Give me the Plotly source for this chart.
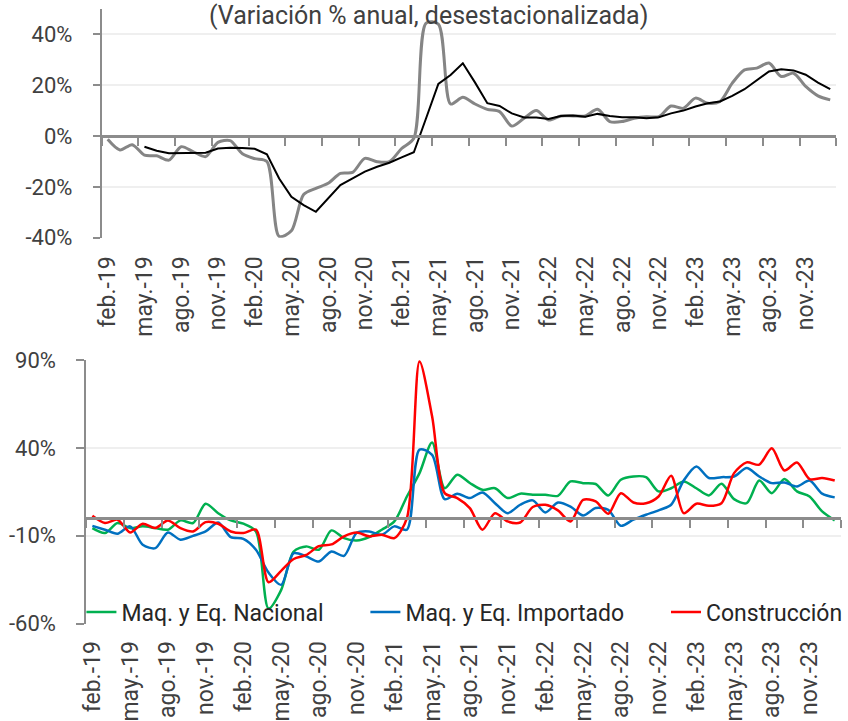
import plotly.graph_objects as go

months = [
    "feb.-19", "mar.-19", "abr.-19", "may.-19", "jun.-19", "jul.-19", "ago.-19", "sept.-19", "oct.-19", "nov.-19", "dic.-19",
    "ene.-20", "feb.-20", "mar.-20", "abr.-20", "may.-20", "jun.-20", "jul.-20", "ago.-20", "sept.-20", "oct.-20", "nov.-20", "dic.-20",
    "ene.-21", "feb.-21", "mar.-21", "abr.-21", "may.-21", "jun.-21", "jul.-21", "ago.-21", "sept.-21", "oct.-21", "nov.-21", "dic.-21",
    "ene.-22", "feb.-22", "mar.-22", "abr.-22", "may.-22", "jun.-22", "jul.-22", "ago.-22", "sept.-22", "oct.-22", "nov.-22", "dic.-22",
    "ene.-23", "feb.-23", "mar.-23", "abr.-23", "may.-23", "jun.-23", "jul.-23", "ago.-23", "sept.-23", "oct.-23", "nov.-23", "dic.-23",
    "ene.-24",
]

# Top panel: monthly series (gray) and smoothed series (black)
total_monthly = [
    -1.3, -5.5, -3.4, -7.5, -7.8, -9.5, -4.2, -6.2, -8.1, -2.5, -1.8, -7.0, -8.9, -10.0,
    -39.5, -37.3, -23.0, -20.6, -18.6, -14.7, -14.3, -8.8, -10.1, -10.1, -4.9, -0.9,
    44.4, 44.0, 12.6, 15.2, 12.6, 10.5, 9.6, 3.9, 7.0, 10.0, 6.3, 7.9, 7.9, 7.9,
    10.5, 5.7, 5.7, 7.0, 7.6, 7.6, 11.8, 10.9, 14.9, 12.9, 13.6, 20.8, 26.0, 26.7,
    28.7, 23.4, 24.7, 19.5, 15.8, 14.2,
]
total_trend = [
    None, None, None, -4.2, -5.8, -6.8, -6.8, -6.6, -6.6, -4.9, -4.6, -4.7, -5.0, -7.2,
    -16.7, -23.9, -27.2, -29.8, -24.5, -19.3, -16.7, -14.0, -12.1, -10.5, -8.4, -6.4,
    7.0, 20.5, 24.0, 28.6, 21.0, 12.9, 11.8, 8.9, 7.3, 7.3, 6.7, 7.9, 8.1, 7.6,
    8.7, 7.9, 7.4, 7.4, 7.0, 7.4, 8.9, 10.0, 11.6, 12.9, 13.6, 15.8, 18.4, 21.8,
    25.4, 26.3, 25.8, 24.1, 21.0, 18.4,
]

# Bottom panel
nacional = [
    -5.7, -8.5, -2.8, -5.7, -4.7, -5.7, -6.6, -1.3, -2.8, 8.2, 2.8, -1.3, -3.2, -7.6,
    -51.5, -41.0, -19.0, -16.1, -18.0, -7.0, -11.4, -12.7, -10.8, -6.6, -1.9, 12.3,
    25.6, 43.0, 17.0, 24.7, 20.0, 16.1, 17.0, 11.4, 13.9, 13.3, 13.3, 12.7, 20.9, 19.9,
    19.4, 12.9, 21.8, 23.7, 23.3, 15.2, 17.0, 20.9, 17.0, 12.9, 19.5, 10.8, 8.5, 21.4,
    14.2, 22.2, 15.2, 12.3, 3.8, -1.3,
]
importado = [
    -4.4, -6.6, -8.9, -4.7, -15.2, -17.1, -8.2, -12.3, -10.1, -7.6, -2.5, -10.8, -11.8, -18.0,
    -31.0, -38.0, -20.0, -21.8, -24.7, -19.0, -21.5, -8.5, -7.6, -9.5, -4.7, -6.6,
    39.0, 36.0, 10.8, 13.9, 11.4, 14.6, 8.5, 2.8, 7.6, 10.1, 3.2, 8.9, 6.6, 1.5,
    5.7, 4.7, -4.4, -0.9, 1.9, 4.4, 7.6, 21.4, 29.4, 22.8, 23.3, 23.7, 28.5, 23.7,
    19.9, 20.3, 18.0, 21.4, 13.9, 11.8,
]
construccion = [
    1.3, -2.8, -0.9, -8.2, -3.2, -5.7, -1.3, -5.7, -7.6, -2.3, -3.2, -7.6, -8.5, -6.6,
    -36.5, -30.0, -23.3, -21.0, -16.0, -15.0, -10.4, -8.2, -10.4, -9.5, -11.4, 0.0,
    89.2, 58.0, 14.2, 11.4, 5.7, -6.6, 2.8, -1.9, -2.5, 6.3, 7.6, 4.4, -1.9, 10.4,
    9.5, 2.5, 14.2, 8.9, 8.5, 12.3, 24.1, 2.8, 8.2, 7.0, 8.5, 25.6, 31.7, 30.4,
    39.8, 27.1, 31.7, 22.2, 22.8, 21.4,
]

top_ticks = [-40, -20, 0, 20, 40]
bot_ticks = [-60, -10, 40, 90]
title_text = "(Variación % anual, desestacionalizada)"

W, H = 848, 721
AXC = "#8c8c8c"
GRID = "#efefef"
TXT = "#404040"
FONT = "Roboto, Liberation Sans, sans-serif"

# pixel geometry -> paper fractions
top_x = [102.3 / W, 842.3 / W]
top_y = [(H - 237.7) / H, (H - 8.9) / H]
top_range = [-40, 50]
bot_x = [86.7 / W, 847.0 / W]
bot_y = [(H - 623.5) / H, (H - 360.0) / H]
bot_range = [-60, 90]
n = len(months)
pos = list(range(n))  # category positions of the months on the linear (zero-line) axes


def zero_pos(dom, rng):
    return dom[0] + (0 - rng[0]) / (rng[1] - rng[0]) * (dom[1] - dom[0])


fig = go.Figure()

fig.add_trace(go.Scatter(x=months, y=total_monthly, mode="lines", line=dict(color="#858585", width=3, shape="spline", smoothing=0.8),
                         xaxis="x", yaxis="y", showlegend=False, hoverinfo="skip"))
fig.add_trace(go.Scatter(x=pos, y=total_trend, mode="lines", line=dict(color="#000000", width=2),
                         xaxis="x3", yaxis="y", showlegend=False, hoverinfo="skip"))

fig.add_trace(go.Scatter(x=months, y=nacional, mode="lines", name="Maq. y Eq. Nacional", legend="legend",
                         line=dict(color="#00b050", width=2.5, shape="spline", smoothing=0.8), xaxis="x2", yaxis="y2"))
fig.add_trace(go.Scatter(x=months, y=importado, mode="lines", name="Maq. y Eq. Importado", legend="legend2",
                         line=dict(color="#0070c0", width=2.5, shape="spline", smoothing=0.8), xaxis="x2", yaxis="y2"))
fig.add_trace(go.Scatter(x=pos, y=construccion, mode="lines", name="Construcción", legend="legend3",
                         line=dict(color="#ff0000", width=2.5, shape="spline", smoothing=0.8), xaxis="x4", yaxis="y2"))

label_axis = dict(type="category", categoryorder="array", categoryarray=months, range=[-0.5, n - 0.5],
                  tickmode="array", tickvals=months[::3], tickangle=-90, ticks="", showline=False, showgrid=False,
                  zeroline=False, tickfont=dict(family=FONT, size=23, color=TXT))
# axis drawn along the zero line: month boundaries every 3 categories
tick_axis = dict(type="linear", range=[-0.5, n - 0.5], tickmode="linear", tick0=-0.5, dtick=3,
                 ticks="outside", ticklen=8, tickcolor=AXC, tickwidth=2, showline=True, linecolor=AXC, linewidth=2.5,
                 showticklabels=False, showgrid=False, zeroline=False, anchor="free", side="bottom")


def yax(dom, anchor, rng, ticks, tlen):
    return dict(domain=dom, anchor=anchor, range=rng, tickmode="array", tickvals=ticks,
                ticktext=[f"{v}%" for v in ticks],
                showline=True, linecolor=AXC, linewidth=1.5, ticks="outside", ticklen=tlen, tickcolor=AXC,
                tickwidth=1.5, gridcolor=GRID, gridwidth=1.5, zeroline=False,
                tickfont=dict(family=FONT, size=22, color=TXT), ticklabelstandoff=16)


def leg(px):
    return dict(orientation="h", x=px / W, xanchor="left", y=(H - 612) / H, yanchor="middle",
                bgcolor="rgba(0,0,0,0)", font=dict(family=FONT, size=23, color="#262626"))


fig.update_layout(
    width=W, height=H,
    margin=dict(l=0, r=0, t=0, b=0),
    paper_bgcolor="white", plot_bgcolor="white",
    template="none",
    xaxis=dict(label_axis, domain=top_x, anchor="y", ticklabelstandoff=13),
    xaxis3=dict(tick_axis, overlaying="x", position=zero_pos(top_y, top_range)),
    yaxis=yax(top_y, "x", top_range, top_ticks, 7),
    xaxis2=dict(label_axis, domain=bot_x, anchor="y2", ticklabelstandoff=12),
    xaxis4=dict(tick_axis, overlaying="x2", position=zero_pos(bot_y, bot_range)),
    yaxis2=yax(bot_y, "x2", bot_range, bot_ticks, 8),
    legend=leg(82),
    legend2=leg(368),
    legend3=leg(671),
    annotations=[dict(text=title_text, x=432 / W, y=1, xref="paper", yref="paper",
                      xanchor="center", yanchor="top", showarrow=False, borderpad=0,
                      font=dict(family=FONT, size=25, color="#404040"))],
)

fig.write_html("out.html", config={"displayModeBar": False},
               post_script="document.body.style.margin='0px';document.body.style.overflow='hidden';")
